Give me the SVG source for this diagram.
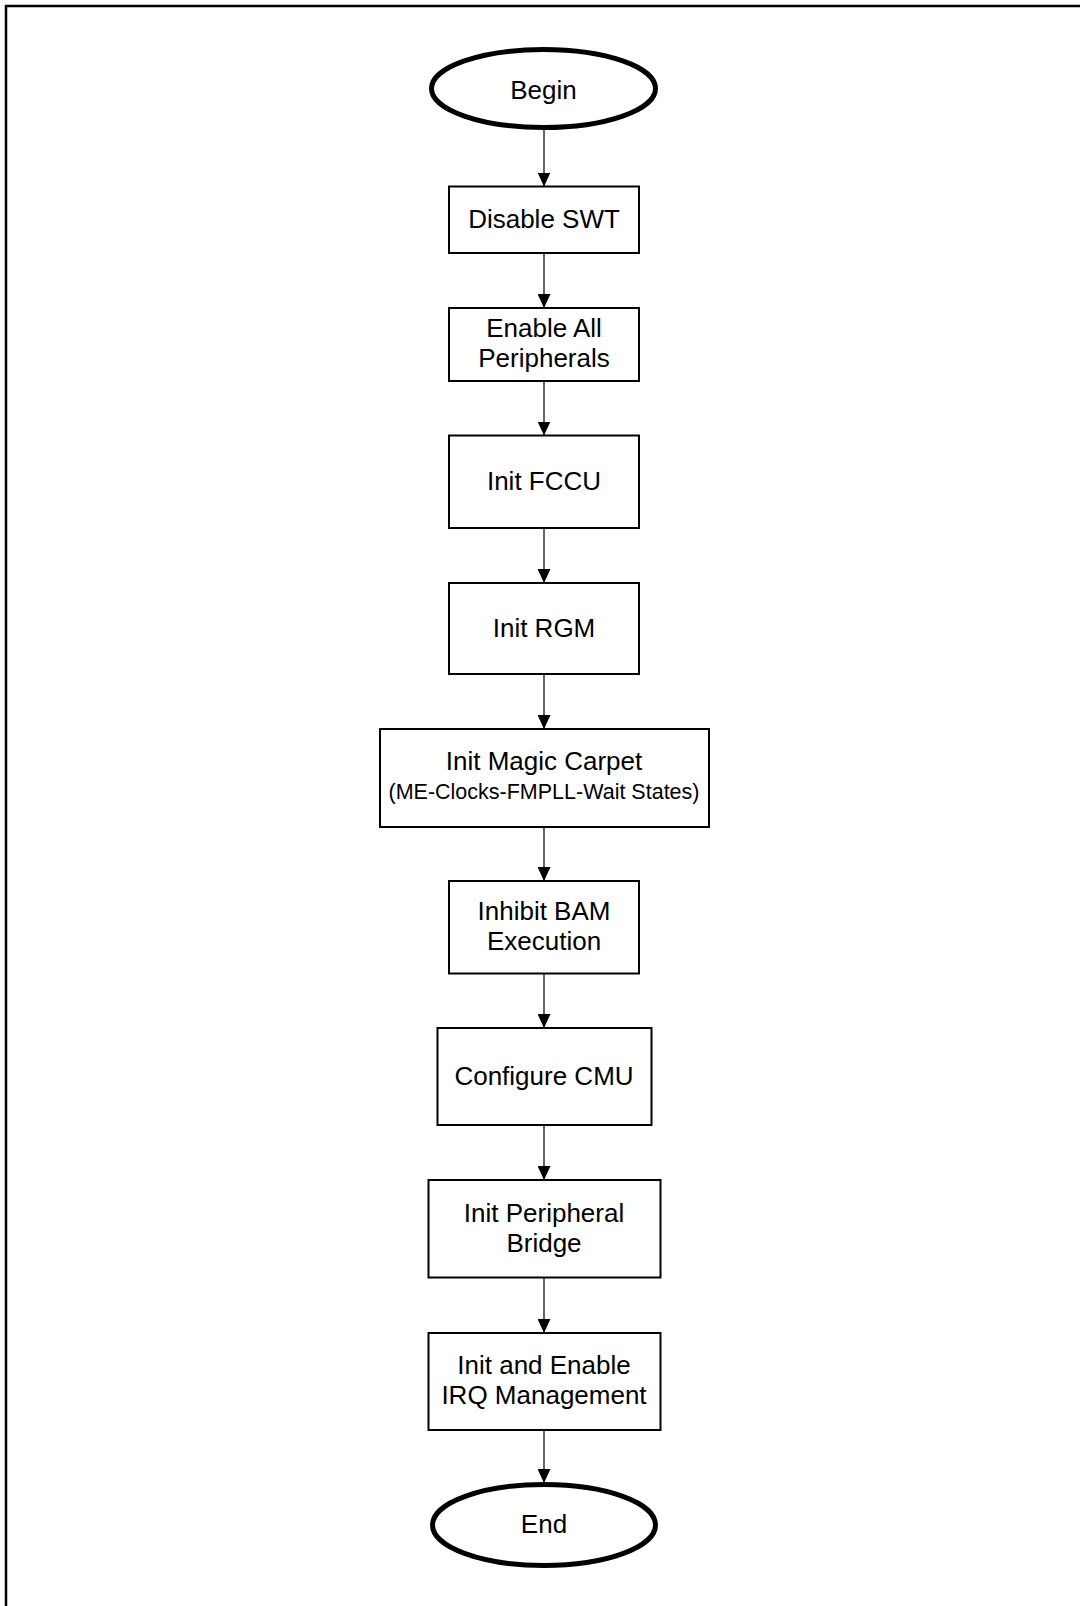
<svg xmlns="http://www.w3.org/2000/svg" width="1080" height="1606" viewBox="0 0 1080 1606">
<style>
.box{fill:#fff;stroke:#000;stroke-width:2}
.term{fill:#fff;stroke:#000;stroke-width:5}
.t{font-family:"Liberation Sans",Arial,sans-serif;font-size:26px;fill:#000;text-anchor:middle}
.s{font-family:"Liberation Sans",Arial,sans-serif;font-size:21.5px;fill:#000;text-anchor:middle}
.c{stroke:#000;stroke-width:1.2;fill:none;marker-end:url(#ah)}
</style>
<defs>
<marker id="ah" markerUnits="userSpaceOnUse" markerWidth="14" markerHeight="13" refX="14" refY="6.5" orient="auto">
<path d="M0,0 L14,6.5 L0,13 Z" fill="#000"/>
</marker>
</defs>
<rect width="1080" height="1606" fill="#fff"/>
<rect x="6" y="6" width="1100" height="1640" fill="none" stroke="#000" stroke-width="2.5"/>
<g id="connectors">
<line class="c" x1="544" y1="129" x2="544" y2="186.5"/>
<line class="c" x1="544" y1="253" x2="544" y2="308"/>
<line class="c" x1="544" y1="381" x2="544" y2="435.5"/>
<line class="c" x1="544" y1="528" x2="544" y2="583"/>
<line class="c" x1="544" y1="674" x2="544" y2="729"/>
<line class="c" x1="544" y1="827" x2="544" y2="881"/>
<line class="c" x1="544" y1="973.5" x2="544" y2="1028"/>
<line class="c" x1="544" y1="1125" x2="544" y2="1180"/>
<line class="c" x1="544" y1="1277.5" x2="544" y2="1333"/>
<line class="c" x1="544" y1="1430" x2="544" y2="1483"/>
</g>
<g id="begin">
<ellipse class="term" cx="543.5" cy="88.5" rx="112" ry="39"/>
<text class="t" x="543.5" y="99">Begin</text>
</g>
<g id="disable-swt">
<rect class="box" x="449" y="186.5" width="190" height="66.5"/>
<text class="t" x="544" y="228">Disable SWT</text>
</g>
<g id="enable-peripherals">
<rect class="box" x="449" y="308" width="190" height="73"/>
<text class="t" x="544" y="337">Enable All</text>
<text class="t" x="544" y="367">Peripherals</text>
</g>
<g id="init-fccu">
<rect class="box" x="449" y="435.5" width="190" height="92.5"/>
<text class="t" x="544" y="490">Init FCCU</text>
</g>
<g id="init-rgm">
<rect class="box" x="449" y="583" width="190" height="91"/>
<text class="t" x="544" y="637">Init RGM</text>
</g>
<g id="init-magic-carpet">
<rect class="box" x="380" y="729" width="329" height="98"/>
<text class="t" x="544" y="770">Init Magic Carpet</text>
<text class="s" x="544" y="799">(ME-Clocks-FMPLL-Wait States)</text>
</g>
<g id="inhibit-bam">
<rect class="box" x="449" y="881" width="190" height="92.5"/>
<text class="t" x="544" y="919.5">Inhibit BAM</text>
<text class="t" x="544" y="949.5">Execution</text>
</g>
<g id="configure-cmu">
<rect class="box" x="437.5" y="1028" width="214" height="97"/>
<text class="t" x="544" y="1084.5">Configure CMU</text>
</g>
<g id="init-peripheral-bridge">
<rect class="box" x="428.5" y="1180" width="232" height="97.5"/>
<text class="t" x="544" y="1221.5">Init Peripheral</text>
<text class="t" x="544" y="1251.5">Bridge</text>
</g>
<g id="init-irq">
<rect class="box" x="428.5" y="1333" width="232" height="97"/>
<text class="t" x="544" y="1373.5">Init and Enable</text>
<text class="t" x="544" y="1403.5">IRQ Management</text>
</g>
<g id="end">
<ellipse class="term" cx="544" cy="1525" rx="111.5" ry="40.5"/>
<text class="t" x="544" y="1533">End</text>
</g>
</svg>
